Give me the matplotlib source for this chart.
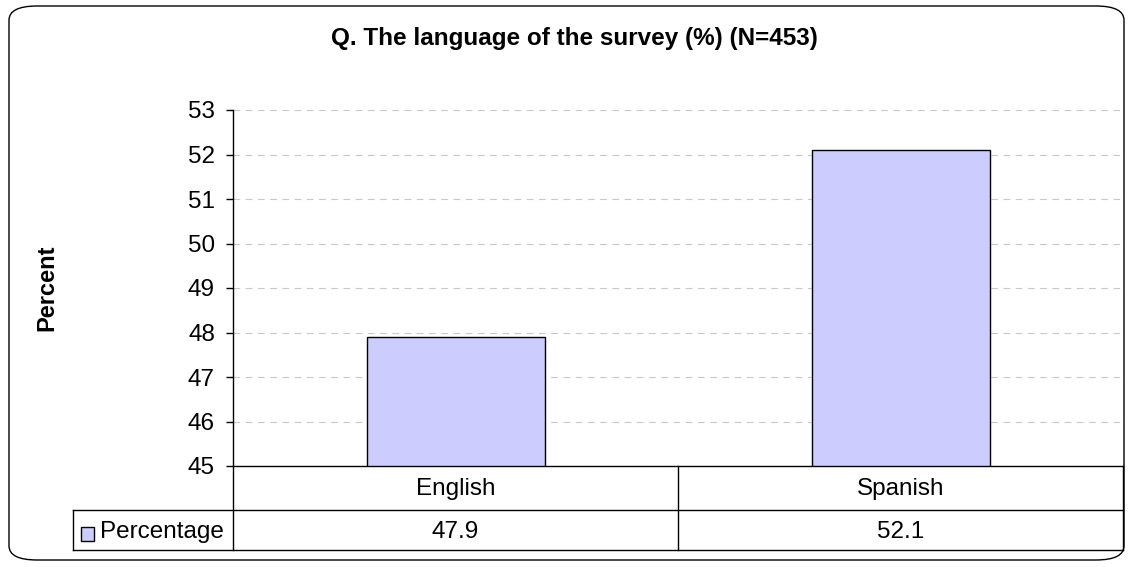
import matplotlib
matplotlib.use("Agg")
import matplotlib.pyplot as plt
from matplotlib.patches import FancyBboxPatch, Rectangle
from matplotlib.lines import Line2D
import matplotlib.transforms as mtransforms

plt.rcParams['font.family'] = ['Liberation Sans', 'DejaVu Sans']

categories = ["English", "Spanish"]
values = [47.9, 52.1]
series_name = "Percentage"
value_labels = ["47.9", "52.1"]
title = "Q. The language of the survey (%) (N=453)"
ylabel = "Percent"
yticks = [45, 46, 47, 48, 49, 50, 51, 52, 53]

W, H = 1133, 567
fig = plt.figure(figsize=(W / 100, H / 100), dpi=100)

def fx(px):
    return px / W

def fy(py):
    return 1 - py / H

FS = 17.5

# outer rounded border
border = FancyBboxPatch((fx(9), fy(560)), fx(1124) - fx(9), fy(6) - fy(560),
                        boxstyle="round,pad=0,rounding_size=0.025",
                        transform=fig.transFigure, fill=False,
                        edgecolor="black", linewidth=1.0)
fig.patches.append(border)

ax_left, ax_right, ax_top, ax_bottom = 233, 1123, 110, 466
ax = fig.add_axes([fx(ax_left), fy(ax_bottom), fx(ax_right) - fx(ax_left),
                   fy(ax_top) - fy(ax_bottom)])

x = list(range(len(categories)))
ax.bar(x, [v - yticks[0] for v in values], bottom=yticks[0], width=0.4,
       color="#CCCCFF", edgecolor="black", linewidth=1.0, zorder=3)
ax.set_xlim(-0.5, len(categories) - 0.5)
ax.set_ylim(yticks[0], yticks[-1])
ax.set_yticks(yticks)
ax.set_yticklabels([str(t) for t in yticks], fontsize=FS)
ax.tick_params(axis="y", direction="out", length=5, width=1.0, pad=8)
ax.set_xticks([])
ax.yaxis.grid(True, linestyle=(0, (6, 5)), color="#C8C8C8", linewidth=0.8, zorder=0)
for s in ["top", "right"]:
    ax.spines[s].set_visible(False)
ax.spines["left"].set_linewidth(1.0)
ax.spines["bottom"].set_linewidth(1.0)

# y label and title
fig.text(fx(47), fy(288), ylabel, rotation=90, ha="center", va="center",
         fontsize=17, fontweight="bold")
fig.text(fx(574), fy(38), title, ha="center", va="center",
         fontsize=17.5, fontweight="bold")

# data table below the axes
row1_bottom = 510
row2_bottom = 550
label_left = 73
lw = 1.0
def hline(y, x0, x1):
    fig.add_artist(Line2D([fx(x0), fx(x1)], [fy(y), fy(y)], transform=fig.transFigure,
                          color="black", linewidth=lw))
def vline(xp, y0, y1):
    fig.add_artist(Line2D([fx(xp), fx(xp)], [fy(y0), fy(y1)], transform=fig.transFigure,
                          color="black", linewidth=lw))

hline(row1_bottom, label_left, ax_right)
hline(row2_bottom, label_left, ax_right)
vline(label_left, row1_bottom, row2_bottom)
vline(ax_left, ax_bottom, row2_bottom)
vline(ax_right, ax_bottom, row2_bottom)

trans = mtransforms.blended_transform_factory(ax.transData, fig.transFigure)
for i in range(1, len(categories)):
    ax.add_artist(Line2D([i - 0.5, i - 0.5], [fy(ax_bottom), fy(row2_bottom)],
                         transform=trans, color="black", linewidth=lw, clip_on=False))
for i, (c, vl) in enumerate(zip(categories, value_labels)):
    ax.text(i, fy(489), c, transform=trans,
            ha="center", va="center", fontsize=FS, clip_on=False)
    ax.text(i, fy(532), vl, transform=trans,
            ha="center", va="center", fontsize=FS, clip_on=False)

# legend key in table
fig.patches.append(Rectangle((fx(81), fy(541)), fx(94) - fx(81), fy(527) - fy(541),
                             transform=fig.transFigure, facecolor="#CCCCFF",
                             edgecolor="black", linewidth=1.0))
fig.text(fx(100), fy(532), series_name, ha="left", va="center", fontsize=FS)

fig.savefig("out.png", dpi=100)
